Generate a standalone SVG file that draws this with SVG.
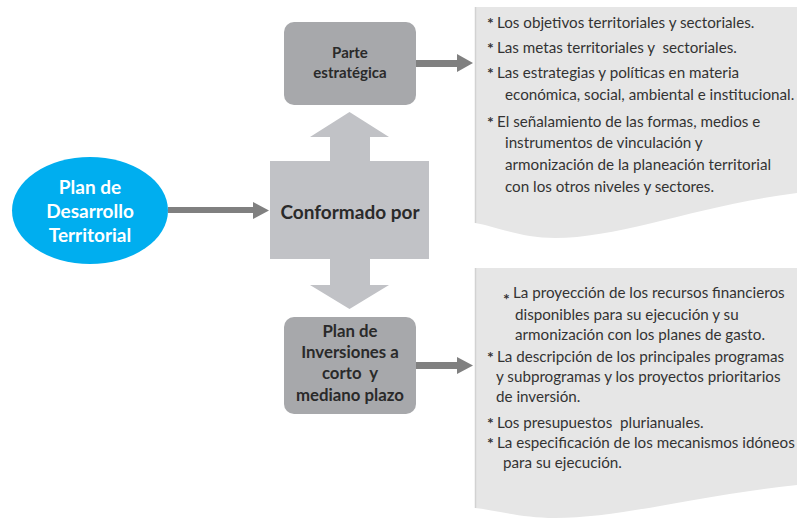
<svg xmlns="http://www.w3.org/2000/svg" width="797" height="520" viewBox="0 0 797 520">
<style>
.doc{fill:#e6e6e6}
.docedge{stroke:#d2d2d2;stroke-width:1.5}
.box{fill:#a7a8ab}
.big{fill:#c1c2c6}
.arr{fill:#808080}
.bt{font-family:Lato,"Open Sans",sans-serif;font-weight:bold;fill:#2a2a2a;text-anchor:middle}
.wt{font-family:Lato,"Open Sans",sans-serif;font-weight:bold;fill:#ffffff;text-anchor:middle;font-size:19px}
.lt{font-family:Lato,"Open Sans",sans-serif;fill:#333333;font-size:15.2px}
.st{font-weight:bold;font-size:16px}
</style>
<rect width="797" height="520" fill="#ffffff"/>
<g id="doc-top">
<path class="doc" d="M475,7 H797 V193 C700,205 620,238 555,238 C520,238 495,226 475,223 Z"/>
<line class="docedge" x1="475.5" y1="7" x2="475.5" y2="223"/>
<text class="lt"><tspan x="487" y="29" class="st">*</tspan><tspan x="497" y="28">Los objetivos territoriales y sectoriales.</tspan><tspan x="487" y="54" class="st">*</tspan><tspan x="497" y="53">Las metas territoriales y&#160; sectoriales.</tspan><tspan x="487" y="79" class="st">*</tspan><tspan x="497" y="78">Las estrategias y políticas en materia</tspan><tspan x="505" y="100">económica, social, ambiental e institucional.</tspan><tspan x="487" y="128" class="st">*</tspan><tspan x="497" y="127">El señalamiento de las formas, medios e</tspan><tspan x="505" y="148">instrumentos de vinculación y</tspan><tspan x="505" y="170">armonización de la planeación territorial</tspan><tspan x="505" y="192">con los otros niveles y sectores.</tspan></text>
</g>
<g id="doc-bottom">
<path class="doc" d="M475,268 H797 V485 C700,495 620,518 555,518 C520,518 495,510 475,508 Z"/>
<line class="docedge" x1="475.5" y1="268" x2="475.5" y2="508"/>
<text class="lt"><tspan x="503" y="305" class="st" font-size="14">*</tspan><tspan x="513" y="298">La proyección de los recursos financieros</tspan><tspan x="515" y="320">disponibles para su ejecución y su</tspan><tspan x="515" y="340">armonización con los planes de gasto.</tspan><tspan x="487" y="363" class="st">*</tspan><tspan x="497" y="362">La descripción de los principales programas</tspan><tspan x="496" y="382">y subprogramas y los proyectos prioritarios</tspan><tspan x="496" y="402">de inversión.</tspan><tspan x="487" y="429" class="st">*</tspan><tspan x="497" y="428">Los presupuestos&#160; plurianuales.</tspan><tspan x="487" y="449" class="st">*</tspan><tspan x="497" y="448">La especificación de los mecanismos idóneos</tspan><tspan x="503" y="468">para su ejecución.</tspan></text>
</g>
<g id="connectors">
<path class="arr" d="M168,207 H253 V202 L269,210.5 L253,219 V213 H168 Z"/>
<path class="big" d="M330,162 V137 H310 L349.5,112 L389,137 H370 V162 Z"/>
<path class="big" d="M330,258 V285 H310 L349.5,309 L389,285 H370 V258 Z"/>
<path class="arr" d="M416,60 H457 V54 L473,63 L457,72 V67 H416 Z"/>
<path class="arr" d="M416,362 H457 V357 L473,365.5 L457,374 V369 H416 Z"/>
</g>
<g id="plan-desarrollo">
<ellipse cx="90" cy="210.5" rx="78" ry="53.5" fill="#00aeef"/>
<text class="wt"><tspan x="90" y="194">Plan de</tspan><tspan x="90" y="218">Desarrollo</tspan><tspan x="90" y="242">Territorial</tspan></text>
</g>
<g id="conformado">
<rect class="big" x="270" y="161" width="159" height="98"/>
<text class="bt" x="350" y="219" font-size="19">Conformado por</text>
</g>
<g id="parte-estrategica">
<rect class="box" x="284" y="22" width="132" height="83" rx="10"/>
<text class="bt" font-size="15"><tspan x="350" y="58">Parte</tspan><tspan x="350" y="78">estratégica</tspan></text>
</g>
<g id="plan-inversiones">
<rect class="box" x="284" y="317" width="132" height="97" rx="10"/>
<text class="bt" font-size="16.8"><tspan x="350" y="337">Plan de</tspan><tspan x="350" y="358">Inversiones a</tspan><tspan x="350" y="379">corto&#160; y</tspan><tspan x="350" y="401">mediano plazo</tspan></text>
</g>
</svg>
